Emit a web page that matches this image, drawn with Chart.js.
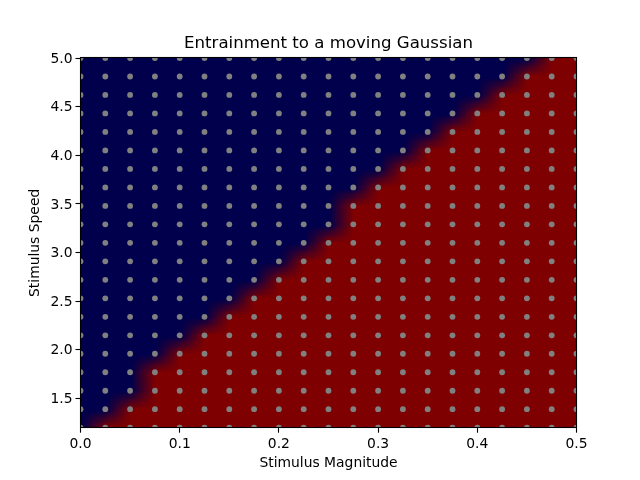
<!DOCTYPE html>
<html>
<head>
<meta charset="utf-8">
<style>html,body{margin:0;padding:0;background:#fff}canvas{display:block}</style>
<script src="https://cdn.jsdelivr.net/npm/chart.js@4/dist/chart.umd.min.js"></script>
</head>
<body>
<canvas id="c" width="640" height="480" style="width:640px;height:480px"></canvas>
<script>
const magnitudes = [0,0.025,0.05,0.075,0.1,0.125,0.15,0.175,0.2,0.225,0.25,0.275,0.3,0.325,0.35,0.375,0.4,0.425,0.45,0.475,0.5];
const speeds = [1.2,1.39,1.58,1.77,1.96,2.15,2.34,2.53,2.72,2.91,3.1,3.29,3.48,3.67,3.86,4.05,4.24,4.43,4.62,4.81,5.0];
// for each speed: how many magnitudes (from the left) are not entrained
const blueCounts = [1,2,3,3,4,5,6,7,8,9,10,11,11,12,13,14,15,16,17,18,19];
const xTicks = [0,0.1,0.2,0.3,0.4,0.5];
const yTicks = [1.5,2,2.5,3,3.5,4,4.5,5];
const lowColor = '#00004c';
const highColor = '#7f0000';
const dotColor = '#808080';
const titleText = 'Entrainment to a moving Gaussian';
const xLabel = 'Stimulus Magnitude';
const yLabel = 'Stimulus Speed';

const dots = [];
speeds.forEach(s => magnitudes.forEach(m => dots.push({x:m, y:s})));

const heatmap = {
  id:'heatmap',
  beforeDatasetsDraw(chart){
    const {ctx, scales:{x, y}} = chart;
    const off = document.createElement('canvas');
    off.width = magnitudes.length; off.height = speeds.length;
    const o = off.getContext('2d');
    speeds.forEach((s, r) => magnitudes.forEach((m, i) => {
      o.fillStyle = i < blueCounts[r] ? lowColor : highColor;
      o.fillRect(i, speeds.length - 1 - r, 1, 1);
    }));
    const x0 = x.getPixelForValue(magnitudes[0]);
    const x1 = x.getPixelForValue(magnitudes[magnitudes.length-1]);
    const yTop = y.getPixelForValue(speeds[speeds.length-1]);
    const yBot = y.getPixelForValue(speeds[0]);
    ctx.save();
    ctx.imageSmoothingEnabled = true;
    ctx.imageSmoothingQuality = 'low';
    ctx.drawImage(off, 0.5, 0.5, magnitudes.length-1, speeds.length-1, x0, yTop, x1-x0, yBot-yTop);
    ctx.restore();
  },
  afterDatasetsDraw(chart){
    const {ctx, chartArea:a} = chart;
    const l = Math.floor(a.left)+0.5, r = Math.floor(a.right)+0.5, t = Math.floor(a.top)-0.5, b = Math.floor(a.bottom)+0.5;
    ctx.save();
    ctx.strokeStyle = '#000';
    ctx.lineWidth = 1.1;
    ctx.strokeRect(l, t, r-l, b-t);
    ctx.restore();
  }
};

// matplotlib centres digits on the tick; canvas "middle" sits about a pixel higher
function shiftLabels(scale, dy){
  if (scale._shifted) return;
  scale._shifted = true;
  const orig = scale.drawLabels;
  scale.drawLabels = function(area){
    this.ctx.save();
    this.ctx.translate(0, dy);
    orig.call(this, area);
    this.ctx.restore();
  };
}

const tickFont = {family:'"DejaVu Sans"', size:13.89};
new Chart(document.getElementById('c'), {
  type:'scatter',
  data:{datasets:[{
    data:dots,
    backgroundColor:dotColor,
    borderWidth:0,
    pointRadius:2.9,
    clip:0
  }]},
  plugins:[heatmap],
  options:{
    responsive:false,
    devicePixelRatio:1,
    animation:false,
    layout:{padding:{left:0,right:63.5,top:0,bottom:0}},
    plugins:{
      legend:{display:false},
      tooltip:{enabled:false},
      title:{
        display:true,
        text:titleText,
        fullSize:false,
        color:'#000',
        font:{family:'"DejaVu Sans"', size:16.6, weight:'normal'},
        padding:{top:33.5,bottom:4.58}
      }
    },
    scales:{
      x:{
        type:'linear',min:0,max:0.5,
        afterBuildTicks(s){ s.ticks = xTicks.map(v=>({value:v})); },
        afterFit(s){ s.height = 52.3; },
        ticks:{color:'#000',font:tickFont,padding:3,maxRotation:0,callback:v=>v.toFixed(1)},
        grid:{drawOnChartArea:false,tickLength:5,tickColor:'#000',tickWidth:1.1},
        border:{color:'#000',width:1.1},
        title:{display:true,text:xLabel,color:'#000',font:tickFont,padding:{top:0,bottom:8}}
      },
      y:{
        type:'linear',min:1.2,max:5,
        afterBuildTicks(s){ s.ticks = yTicks.map(v=>({value:v})); },
        afterFit(s){ s.width = 80.5; shiftLabels(s, 1); },
        ticks:{color:'#000',font:tickFont,padding:3,callback:v=>v.toFixed(1)},
        grid:{drawOnChartArea:false,tickLength:5,tickColor:'#000',tickWidth:1.1},
        border:{color:'#000',width:1.1},
        title:{display:true,text:yLabel,color:'#000',font:tickFont,padding:{top:27,bottom:0}}
      }
    }
  }
});
</script>
</body>
</html>
